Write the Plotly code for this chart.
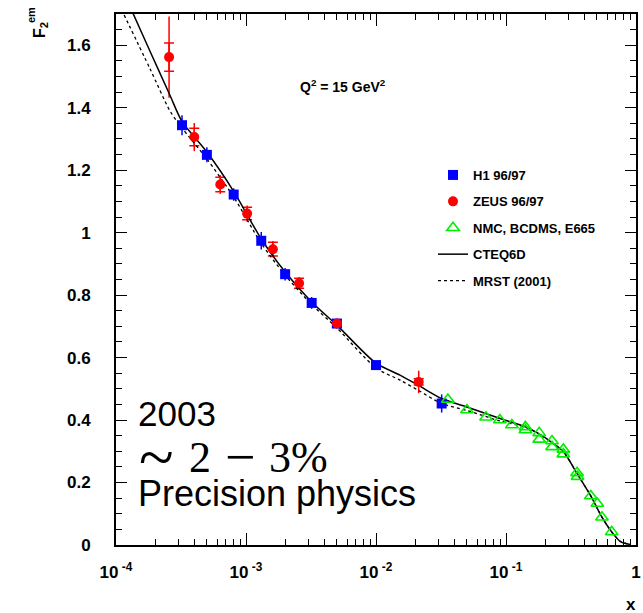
import plotly.graph_objects as go

# ---------------- data ----------------
h1_x = [3.22e-4, 5.0e-4, 8.04e-4, 1.31e-3, 2.0e-3, 3.2e-3, 5.0e-3, 1.0e-2, 3.2e-2]
h1_y = [1.344, 1.249, 1.122, 0.974, 0.867, 0.775, 0.709, 0.576, 0.453]
h1_err = [0.032, 0.024, 0.02, 0.028, 0.02, 0.019, 0.015, 0.012, 0.029]

zeus_x = [2.56e-4, 4.0e-4, 6.34e-4, 1.02e-3, 1.61e-3, 2.56e-3, 5.0e-3, 2.13e-2]
zeus_y = [1.562, 1.306, 1.154, 1.061, 0.947, 0.838, 0.709, 0.522]
zeus_stat = [0.045, 0.028, 0.023, 0.02, 0.022, 0.016, 0.012, 0.01]
zeus_tot = [0.13, 0.045, 0.03, 0.026, 0.026, 0.02, 0.015, 0.036]

nmc_x = [0.0357, 0.0501, 0.0702, 0.0896, 0.111, 0.141, 0.141, 0.180, 0.180,
         0.226, 0.226, 0.276, 0.276, 0.352, 0.355, 0.449, 0.504, 0.547, 0.650]
nmc_y = [0.466, 0.432, 0.409, 0.400, 0.384, 0.378, 0.368, 0.359, 0.338,
         0.333, 0.314, 0.306, 0.291, 0.231, 0.219, 0.157, 0.133, 0.089, 0.042]

cteq_x = [1.2e-4, 1.83e-4, 2.6e-4, 3.22e-4, 5.0e-4, 8.1e-4, 1.3e-3, 2.0e-3, 3.2e-3,
          5.0e-3, 1.0e-2, 1.53e-2, 2.14e-2, 3.2e-2, 5.0e-2, 9.0e-2, 0.141, 0.180,
          0.226, 0.276, 0.352, 0.449, 0.547, 0.650, 0.76, 0.90]
cteq_y = [1.75, 1.58, 1.44, 1.356, 1.258, 1.13, 0.982, 0.874, 0.778,
          0.704, 0.582, 0.544, 0.510, 0.469, 0.442, 0.405, 0.378, 0.356,
          0.328, 0.299, 0.229, 0.157, 0.089, 0.042, 0.011, 0.002]

mrst_x = [1.1e-4, 1.83e-4, 2.6e-4, 3.22e-4, 5.0e-4, 8.1e-4, 1.3e-3, 2.0e-3, 3.2e-3,
          5.0e-3, 1.0e-2, 1.53e-2, 2.14e-2, 3.2e-2, 5.0e-2, 9.0e-2, 0.141, 0.180,
          0.226, 0.276, 0.352, 0.449, 0.547, 0.650, 0.76, 0.90]
mrst_y = [1.715, 1.524, 1.39, 1.335, 1.236, 1.112, 0.968, 0.864, 0.770,
          0.695, 0.567, 0.528, 0.494, 0.453, 0.431, 0.397, 0.377, 0.355,
          0.327, 0.299, 0.229, 0.157, 0.089, 0.042, 0.011, 0.002]

x_tickvals = [1e-4, 1e-3, 1e-2, 1e-1, 1]
x_ticktext = ["10\u2009<sup>-4</sup>", "10\u2009<sup>-3</sup>", "10\u2009<sup>-2</sup>",
              "10\u2009<sup>-1</sup>", "1"]
x_minor = [m * 10.0 ** e for e in (-4, -3, -2, -1) for m in range(2, 10)]

# ---------------- figure ----------------
W, H = 643, 613
L, R, T, B = 116, 7, 14, 68
PW, PH = W - L - R, H - T - B

def px(x):
    return (x - L) / PW

def py(y):
    return (H - B - y) / PH

SANS = "Liberation Sans, Arial, sans-serif"
SERIF = "Liberation Serif, Times New Roman, serif"
BLUE, RED, GREEN = "#0000ff", "#ff0000", "#00ee00"

fig = go.Figure()

# error bars (no legend)
fig.add_trace(go.Scatter(x=h1_x, y=h1_y, mode="markers", showlegend=False,
                         marker=dict(size=1, color=BLUE),
                         error_y=dict(type="data", array=h1_err, width=0, thickness=1.5, color=BLUE),
                         hoverinfo="skip"))
fig.add_trace(go.Scatter(x=zeus_x, y=zeus_y, mode="markers", showlegend=False,
                         marker=dict(size=1, color=RED),
                         error_y=dict(type="data", array=zeus_tot, width=0, thickness=1.5, color=RED),
                         hoverinfo="skip"))
fig.add_trace(go.Scatter(x=zeus_x, y=zeus_y, mode="markers", showlegend=False,
                         marker=dict(size=1, color=RED),
                         error_y=dict(type="data", array=zeus_stat, width=5, thickness=1.5, color=RED),
                         hoverinfo="skip"))

fig.add_trace(go.Scatter(x=cteq_x, y=cteq_y, mode="lines", name="CTEQ6D", legendgroup="d",
                         legendrank=4, line=dict(color="black", width=1.5, shape="spline", smoothing=0.8)))
fig.add_trace(go.Scatter(x=mrst_x, y=mrst_y, mode="lines", name="MRST (2001)", legendgroup="e",
                         legendrank=5,
                         line=dict(color="black", width=1.3, dash="3px,3px", shape="spline", smoothing=0.8)))

fig.add_trace(go.Scatter(x=h1_x, y=h1_y, mode="markers", name="H1 96/97", legendgroup="a",
                         legendrank=1, marker=dict(symbol="square", size=10, color=BLUE)))
fig.add_trace(go.Scatter(x=zeus_x, y=zeus_y, mode="markers", name="ZEUS 96/97", legendgroup="b",
                         legendrank=2, marker=dict(symbol="circle", size=10, color=RED)))
fig.add_trace(go.Scatter(x=nmc_x, y=nmc_y, mode="markers", name="NMC, BCDMS, E665", legendgroup="c",
                         legendrank=3,
                         marker=dict(symbol="triangle-up-open", size=11, color=GREEN,
                                     line=dict(width=1.6, color=GREEN))))

tickfont = dict(family=SANS, size=17, color="black", weight="bold")

fig.update_xaxes(type="log", range=[-4, 0], tickmode="array", tickvals=x_tickvals, ticktext=x_ticktext,
                 ticks="inside", ticklen=12, tickwidth=1, tickcolor="black",
                 showline=True, linewidth=2, linecolor="black", mirror="ticks",
                 showgrid=False, zeroline=False, tickfont=tickfont, ticklabelstandoff=11,
                 minor=dict(tickmode="array", tickvals=x_minor, ticks="inside", ticklen=6,
                            tickwidth=1, tickcolor="black", showgrid=False))
fig.update_yaxes(range=[0, 1.7], tick0=0, dtick=0.2,
                 ticks="inside", ticklen=11, tickwidth=1, tickcolor="black",
                 showline=True, linewidth=2, linecolor="black", mirror="ticks",
                 showgrid=False, zeroline=False, tickfont=tickfont, ticklabelstandoff=20,
                 minor=dict(dtick=0.05, ticks="inside", ticklen=6, tickwidth=1,
                            tickcolor="black", showgrid=False))

ann = []
ann.append(dict(text="F<sub>2</sub>", x=px(41), y=py(30), textangle=-90,
                font=dict(family=SANS, size=16, color="black", weight="bold")))
ann.append(dict(text="em", x=px(31), y=py(15), textangle=-90,
                font=dict(family=SANS, size=11, color="black", weight="bold")))
ann.append(dict(text="x", x=px(631), y=py(604),
                font=dict(family=SANS, size=17, color="black", weight="bold")))
ann.append(dict(text="Q<sup>2</sup> = 15 GeV<sup>2</sup>", x=px(343), y=py(86),
                font=dict(family=SANS, size=14, color="black", weight="bold")))
ann.append(dict(text="2003", x=px(137), y=py(413), xanchor="left",
                font=dict(family=SANS, size=35, color="black")))
# "~ 2 - 3%" line, built piecewise
ann.append(dict(text="~", x=px(138), y=py(457), xanchor="left",
                font=dict(family=SERIF, size=64, color="black")))
ann.append(dict(text="2", x=px(188), y=py(457), xanchor="left",
                font=dict(family=SERIF, size=44, color="black")))
ann.append(dict(text="\u2212", x=px(224), y=py(457), xanchor="left",
                font=dict(family=SERIF, size=54, color="black")))
ann.append(dict(text="3%", x=px(268), y=py(457), xanchor="left",
                font=dict(family=SERIF, size=44, color="black")))
ann.append(dict(text="Precision physics", x=px(137), y=py(493), xanchor="left",
                font=dict(family=SANS, size=36, color="black")))
for a in ann:
    a.setdefault("xanchor", "center")
    a.update(xref="paper", yref="paper", yanchor="middle", showarrow=False, borderpad=0)

fig.update_layout(
    width=W, height=H, margin=dict(l=L, r=R, t=T, b=B, autoexpand=False),
    paper_bgcolor="white", plot_bgcolor="white",
    annotations=ann,
    legend=dict(x=px(433), y=py(160), xanchor="left", yanchor="top",
                bgcolor="rgba(0,0,0,0)", tracegroupgap=6.5, traceorder="grouped",
                font=dict(family=SANS, size=13, color="black", weight="bold")),
)

fig.write_html("out.html")
